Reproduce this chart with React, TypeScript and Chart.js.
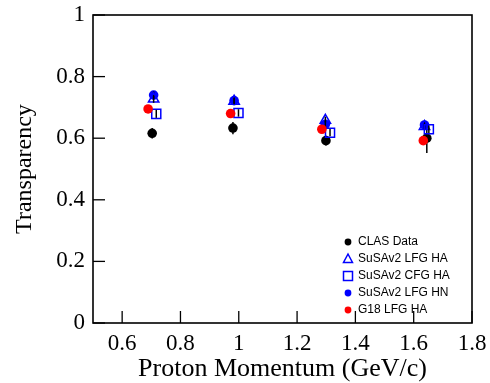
import React, { useEffect, useRef } from 'react';
import { Chart, registerables } from 'chart.js';

Chart.register(...registerables);

// ---- data ----
const seriesLabels = ['CLAS Data', 'SuSAv2 LFG HA', 'SuSAv2 CFG HA', 'SuSAv2 LFG HN', 'G18 LFG HA'];

const clasX = [0.703, 0.98, 1.299, 1.645];
const clasY = [0.616, 0.633, 0.592, 0.6];
const clasErr = [0.017, 0.02, 0.016, 0.048];

const lfgHaX = [0.708, 0.984, 1.297, 1.637];
const lfgHaY = [0.727, 0.72, 0.658, 0.638];
const lfgHaErr = [0.012, 0.01, 0.012, 0.01];

const cfgHaX = [0.717, 0.999, 1.313, 1.652];
const cfgHaY = [0.679, 0.682, 0.618, 0.629];
const cfgHaErr = [0.013, 0.012, 0.012, 0.012];

const lfgHnX = [0.708, 0.984, 1.297, 1.637];
const lfgHnY = [0.74, 0.722, 0.645, 0.643];
const lfgHnErr = [0.012, 0.012, 0.012, 0.012];

const g18X = [0.689, 0.972, 1.285, 1.633];
const g18Y = [0.695, 0.68, 0.629, 0.592];

const xTickValues = [0.6, 0.8, 1.0, 1.2, 1.4, 1.6, 1.8];
const xTickLabels = ['0.6', '0.8', '1', '1.2', '1.4', '1.6', '1.8'];
const yTickValues = [0, 0.2, 0.4, 0.6, 0.8, 1.0];
const yTickLabels = ['0', '0.2', '0.4', '0.6', '0.8', '1'];

const SERIF = '"Liberation Serif", "Times New Roman", serif';
const SANS = '"Liberation Sans", Arial, Helvetica, sans-serif';

function pts(xs: number[], ys: number[], errs?: number[]) {
  return xs.map((x, i) => ({ x, y: ys[i], err: errs ? errs[i] : 0 }));
}

const errorBarPlugin = {
  id: 'errorBars',
  afterDatasetDraw(chart: any, args: any) {
    const meta = args.meta;
    const ds = chart.data.datasets[args.index];
    const yScale = chart.scales.y;
    const ctx = chart.ctx;
    ctx.save();
    ctx.strokeStyle = '#000';
    ctx.lineWidth = 1.5;
    meta.data.forEach((el: any, i: number) => {
      const d = ds.data[i];
      if (!d || !d.err) return;
      const x = el.x;
      const y1 = yScale.getPixelForValue(d.y + d.err);
      const y2 = yScale.getPixelForValue(d.y - d.err);
      ctx.beginPath();
      ctx.moveTo(x, y1);
      ctx.lineTo(x, y2);
      ctx.stroke();
    });
    ctx.restore();
  },
};

const framePlugin = {
  id: 'frameTicks',
  afterDatasetsDraw(chart: any) {
    const { ctx, chartArea } = chart;
    const { left, right, top, bottom } = chartArea;
    ctx.save();
    ctx.strokeStyle = '#000';
    ctx.lineWidth = 1.6;
    ctx.strokeRect(left, top, right - left, bottom - top);
    ctx.lineWidth = 1.3;
    const xs = chart.scales.x;
    const ys = chart.scales.y;
    xs.ticks.forEach((t: any) => {
      const px = xs.getPixelForValue(t.value);
      ctx.beginPath();
      ctx.moveTo(px, bottom);
      ctx.lineTo(px, bottom - 12);
      ctx.stroke();
    });
    ys.ticks.forEach((t: any) => {
      const py = ys.getPixelForValue(t.value);
      ctx.beginPath();
      ctx.moveTo(left, py);
      ctx.lineTo(left + 12, py);
      ctx.stroke();
    });
    ctx.restore();
  },
};

const legendPlugin = {
  id: 'innerLegend',
  afterDraw(chart: any) {
    const ctx = chart.ctx;
    const { right, bottom } = chart.chartArea;
    const mx = right - 124;
    const tx = right - 114;
    const y0 = bottom - 81;
    const step = 17;
    ctx.save();
    ctx.font = `12px ${SANS}`;
    ctx.textBaseline = 'middle';
    ctx.textAlign = 'left';
    chart.data.datasets.forEach((ds: any, i: number) => {
      const y = y0 + i * step;
      const style = ds.pointStyle;
      ctx.lineWidth = 1.5;
      ctx.strokeStyle = ds.borderColor;
      ctx.fillStyle = ds.backgroundColor;
      ctx.beginPath();
      if (style === 'triangle') {
        ctx.moveTo(mx, y - 5);
        ctx.lineTo(mx + 4.5, y + 3.5);
        ctx.lineTo(mx - 4.5, y + 3.5);
        ctx.closePath();
        ctx.stroke();
      } else if (style === 'rect') {
        ctx.rect(mx - 4.5, y - 4.5, 9, 9);
        ctx.stroke();
      } else {
        ctx.arc(mx, y, 3.4, 0, Math.PI * 2);
        ctx.fill();
      }
      ctx.fillStyle = '#000';
      ctx.fillText(seriesLabels[i], tx, y);
    });
    ctx.restore();
  },
};

export default function App() {
  const ref = useRef<HTMLCanvasElement | null>(null);

  useEffect(() => {
    if (!ref.current) return;
    const chart = new Chart(ref.current, {
      type: 'scatter',
      data: {
        datasets: [
          {
            label: seriesLabels[0],
            data: pts(clasX, clasY, clasErr),
            pointStyle: 'circle',
            pointRadius: 4.8,
            backgroundColor: '#000000',
            borderColor: '#000000',
            borderWidth: 0,
            order: 4,
          },
          {
            label: seriesLabels[1],
            data: pts(lfgHaX, lfgHaY, lfgHaErr),
            pointStyle: 'triangle',
            pointRadius: 6,
            backgroundColor: 'rgba(0,0,0,0)',
            borderColor: '#0000ff',
            borderWidth: 1.5,
            order: 2,
          },
          {
            label: seriesLabels[2],
            data: pts(cfgHaX, cfgHaY, cfgHaErr),
            pointStyle: 'rect',
            pointRadius: 6.4,
            backgroundColor: 'rgba(0,0,0,0)',
            borderColor: '#0000ff',
            borderWidth: 1.5,
            order: 1,
          },
          {
            label: seriesLabels[3],
            data: pts(lfgHnX, lfgHnY, lfgHnErr),
            pointStyle: 'circle',
            pointRadius: 4.8,
            backgroundColor: '#0000ff',
            borderColor: '#0000ff',
            borderWidth: 0,
            order: 3,
          },
          {
            label: seriesLabels[4],
            data: pts(g18X, g18Y),
            pointStyle: 'circle',
            pointRadius: 4.8,
            backgroundColor: '#ff0000',
            borderColor: '#ff0000',
            borderWidth: 0,
            order: 0,
          },
        ],
      },
      options: {
        responsive: false,
        animation: false,
        events: [],
        layout: { padding: { top: 15, right: 18, left: 0, bottom: 0 } },
        plugins: {
          legend: { display: false },
          tooltip: { enabled: false },
        },
        scales: {
          x: {
            type: 'linear',
            min: 0.5,
            max: 1.8,
            afterBuildTicks: (s: any) => {
              s.ticks = xTickValues.map((v) => ({ value: v }));
            },
            afterFit: (s: any) => {
              s.height = 60;
              s.paddingLeft = 0;
              s.paddingRight = 0;
            },
            grid: { display: false, drawTicks: false },
            border: { display: false },
            ticks: {
              autoSkip: false,
              maxRotation: 0,
              padding: 7,
              color: '#000',
              font: { family: SERIF, size: 23 },
              callback: (_v: any, i: number) => xTickLabels[i],
            },
            title: {
              display: true,
              text: 'Proton Momentum (GeV/c)',
              color: '#000',
              font: { family: SERIF, size: 26 },
              padding: { top: 0, bottom: -2 },
            },
          },
          y: {
            type: 'linear',
            min: 0,
            max: 1,
            afterBuildTicks: (s: any) => {
              s.ticks = yTickValues.map((v) => ({ value: v }));
            },
            afterFit: (s: any) => {
              s.width = 93;
              s.paddingTop = 0;
              s.paddingBottom = 0;
            },
            grid: { display: false, drawTicks: false },
            border: { display: false },
            ticks: {
              autoSkip: false,
              padding: 8,
              color: '#000',
              font: { family: SERIF, size: 23 },
              callback: (_v: any, i: number) => yTickLabels[i],
            },
            title: {
              display: true,
              text: 'Transparency',
              color: '#000',
              font: { family: SERIF, size: 24 },
              padding: { top: 10, bottom: 0 },
            },
          },
        },
      },
      plugins: [errorBarPlugin, framePlugin, legendPlugin],
    } as any);
    return () => chart.destroy();
  }, []);

  return (
    <div style={{ position: 'fixed', left: 0, top: 0, width: 490, height: 383, background: '#fff' }}>
      <canvas ref={ref} width={490} height={383} />
    </div>
  );
}
